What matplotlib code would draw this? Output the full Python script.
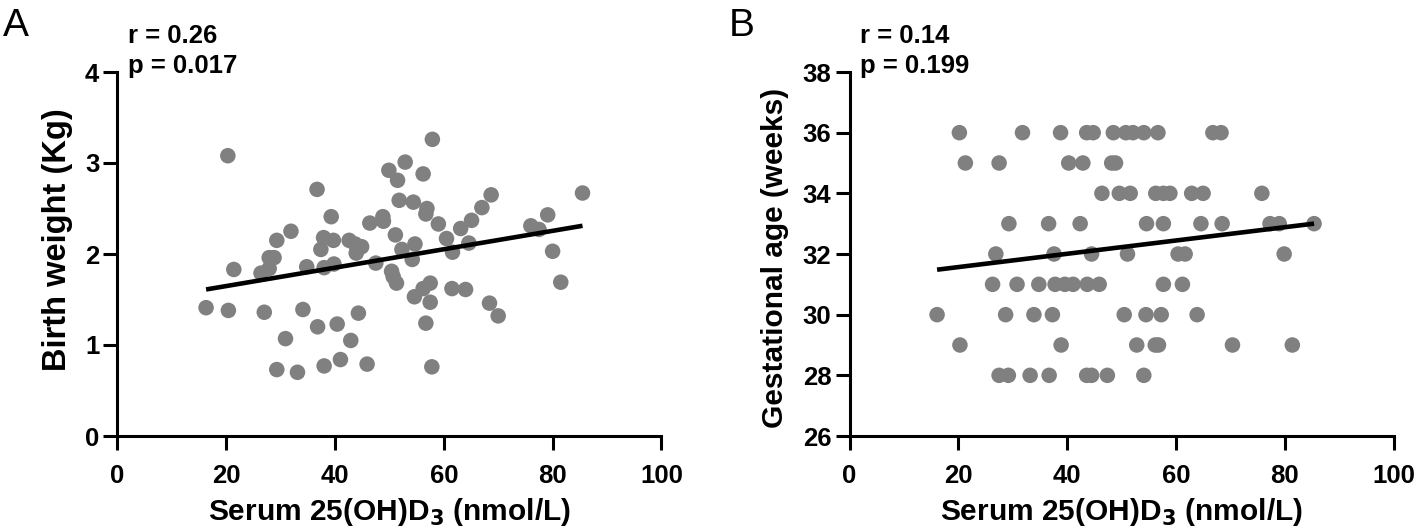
import numpy as np
import matplotlib
matplotlib.use('Agg')
from matplotlib import pyplot as plt

plt.rcParams['font.family'] = ['Liberation Sans', 'DejaVu Sans']

# panel A: serum 25(OH)D3 vs birth weight
vit_a = [20.3, 36.7, 39.3, 31.9, 29.3, 37.9, 37.4, 27.9, 28.8, 26.4,
         27.9, 21.4, 34.8, 38.0, 16.3, 20.4, 27.0, 34.1, 36.8, 30.9,
         29.3, 33.1, 38.0, 39.7, 39.8, 42.6, 43.7, 44.9, 43.9, 46.4,
         48.8, 48.9, 47.5, 49.9, 52.9, 51.5, 56.2, 57.9, 51.8, 54.4,
         56.9, 56.7, 51.1, 52.3, 54.7, 54.2, 59.0, 60.5, 61.6, 63.1,
         65.1, 64.6, 67.0, 68.7, 50.4, 50.7, 51.3, 54.6, 56.2, 57.5,
         57.5, 61.5, 64.0, 68.4, 70.0, 40.4, 44.3, 42.9, 41.0, 45.9,
         56.7, 57.8, 85.5, 79.1, 76.0, 77.5, 80.0, 81.5]
weight = [3.08, 2.71, 2.41, 2.25, 2.15, 2.18, 2.05, 1.96, 1.96, 1.79,
          1.84, 1.83, 1.86, 1.85, 1.41, 1.38, 1.36, 1.39, 1.20, 1.07,
          0.73, 0.70, 0.77, 2.15, 1.89, 2.15, 2.11, 2.08, 2.01, 2.34,
          2.41, 2.36, 1.90, 2.92, 3.01, 2.81, 2.88, 3.26, 2.59, 2.57,
          2.50, 2.44, 2.21, 2.05, 2.11, 1.94, 2.33, 2.17, 2.02, 2.28,
          2.37, 2.12, 2.51, 2.65, 1.81, 1.75, 1.68, 1.53, 1.62, 1.68,
          1.47, 1.62, 1.61, 1.46, 1.32, 1.23, 1.35, 1.05, 0.84, 0.79,
          1.24, 0.76, 2.67, 2.43, 2.31, 2.27, 2.03, 1.69]

# panel B: serum 25(OH)D3 vs gestational age, grouped by week
ga_rows = {
    36: [20.2, 31.8, 38.8, 43.6, 44.8, 48.5, 50.8, 52.1, 54.1, 56.7, 66.8, 68.3],
    35: [21.3, 27.5, 40.3, 42.9, 48.2, 48.9],
    34: [46.4, 49.6, 51.6, 56.3, 57.7, 58.9, 62.9, 65.0, 75.8],
    33: [29.3, 36.6, 42.4, 54.6, 57.7, 64.6, 68.5, 77.3, 79.0, 85.4],
    32: [26.9, 37.6, 44.5, 51.1, 60.4, 61.7, 79.9],
    31: [26.3, 30.8, 34.8, 37.8, 39.6, 41.1, 43.7, 45.9, 57.7, 61.2],
    30: [16.1, 28.7, 33.9, 37.3, 50.5, 54.5, 57.3, 63.9],
    29: [20.3, 38.9, 52.8, 56.2, 56.8, 70.4, 81.4],
    28: [27.5, 29.2, 33.2, 36.7, 43.6, 44.5, 47.4, 54.1],
}
vit_b = [v for wk in ga_rows for v in ga_rows[wk]]
gest = [wk for wk in ga_rows for v in ga_rows[wk]]

panels = [
    dict(x=vit_a, y=weight, ylim=(0, 4), yticks=[0, 1, 2, 3, 4],
         ylabel='Birth weight (Kg)', letter='A', r='r = 0.26', p='p = 0.017',
         ylab_size=23.5, ylab_base=66, ylab_mid=240),
    dict(x=vit_b, y=gest, ylim=(26, 38), yticks=[26, 28, 30, 32, 34, 36, 38],
         ylabel='Gestational age (weeks)', letter='B', r='r = 0.14', p='p = 0.199',
         ylab_size=21.5, ylab_base=783, ylab_mid=258),
]

W, H = 1416, 529
fig = plt.figure(figsize=(W / 100, H / 100), dpi=100)
lefts = [117.4, 849.5]
letter_x = [3, 729]
AX_W, AX_H, AX_BOT = 544, 364, 436

for i, pn in enumerate(panels):
    x0 = lefts[i]
    ax = fig.add_axes([x0 / W, 1 - AX_BOT / H, AX_W / W, AX_H / H])
    ax.scatter(pn['x'], pn['y'], s=125, color='#808080', edgecolors='none', zorder=3, clip_on=False)
    k, b = np.polyfit(pn['x'], pn['y'], 1)
    xs = np.array([min(pn['x']), max(pn['x'])])
    ax.plot(xs, k * xs + b, color='black', lw=3.3, zorder=4, solid_capstyle='butt')

    ax.set_xlim(0, 100)
    ax.set_ylim(*pn['ylim'])
    ax.set_xticks([0, 20, 40, 60, 80, 100])
    ax.set_yticks(pn['yticks'])
    for s in ['top', 'right']:
        ax.spines[s].set_visible(False)
    for s in ['left', 'bottom']:
        ax.spines[s].set_linewidth(2.2)
    ax.tick_params(width=2.2, length=10, labelsize=18.5)
    ax.tick_params(axis='x', pad=10.5)
    ax.tick_params(axis='y', pad=3)
    for lab in ax.get_xticklabels() + ax.get_yticklabels():
        lab.set_fontweight('bold')

    ax.set_xlabel('Serum 25(OH)D$_\\mathbf{3}$ (nmol/L)', fontsize=21.5, fontweight='bold')
    ax.xaxis.set_label_coords(0.5, (AX_BOT - 520.5) / AX_H)
    ax.xaxis.label.set_verticalalignment('baseline')

    ax.set_ylabel(pn['ylabel'], fontsize=pn['ylab_size'], fontweight='bold')
    ax.yaxis.set_label_coords((pn['ylab_base'] - x0) / AX_W, (AX_BOT - pn['ylab_mid']) / AX_H)
    ax.yaxis.label.set_verticalalignment('baseline')

    tx = (x0 + 10.5) / W
    fig.text(tx, 1 - 43 / H, pn['r'], fontsize=18.5, fontweight='bold', va='baseline')
    fig.text(tx, 1 - 72.5 / H, pn['p'], fontsize=18.5, fontweight='bold', va='baseline')
    fig.text(letter_x[i] / W, 1 - 36 / H, pn['letter'], fontsize=28, va='baseline')

fig.savefig('out.png', dpi=100)
